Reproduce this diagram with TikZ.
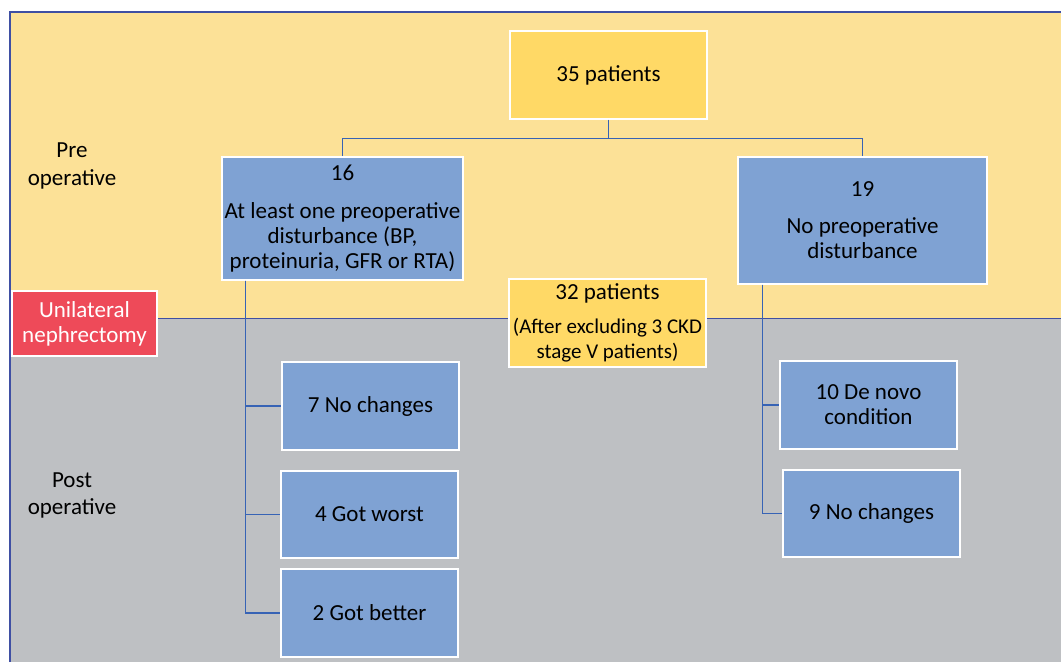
\documentclass[tikz,border=0pt]{standalone}
\usepackage{fontspec}
\setmainfont{Carlito}
\usetikzlibrary{calc}
\definecolor{bgyellow}{HTML}{FCE197}
\definecolor{bggray}{HTML}{BEC0C3}
\definecolor{boxblue}{HTML}{7FA2D3}
\definecolor{boxyellow}{HTML}{FFD966}
\definecolor{boxred}{HTML}{EE4A59}
\definecolor{linkblue}{HTML}{3763B5}
\definecolor{frameblue}{HTML}{3F4FA3}
\begin{document}
\begin{tikzpicture}[x=1pt,y=-1pt,
  font=\fontsize{23}{25}\selectfont,
  bx/.style={draw=white,line width=1.2pt,inner sep=0pt,align=center,text=black},
  bluebox/.style={bx,fill=boxblue},
  yellowbox/.style={bx,fill=boxyellow},
  link/.style={draw=linkblue,line width=1.2pt},
  lbl/.style={align=center,inner sep=0pt}]
\useasboundingbox (0,0) rectangle (1061,662);
\fill[bgyellow] (10,12) rectangle (1061,318);
\fill[bggray] (10,318) rectangle (1061,662);
\draw[frameblue,line width=1.2pt] (10,662) -- (10,12) -- (1061,12);
\draw[frameblue,line width=1pt] (10,318) -- (1061,318);

\node[lbl] (pre) at (72,166) {Pre\\[3pt]operative};
\node[lbl] (post) at (72,495) {Post\\[2pt]operative};

\node[yellowbox,minimum width=197,minimum height=88] (n35) at (608.5,75) {35 patients};
\node[bluebox,minimum width=241,minimum height=123] (n16) at (342.5,218.5) {16\\[13pt]At least one preoperative\\disturbance (BP,\\proteinuria, GFR or RTA)};
\node[bluebox,minimum width=249,minimum height=127] (n19) at (862.5,220.5) {19\\[12pt]No preoperative\\disturbance};
\node[yellowbox,minimum width=197,minimum height=88] (n32) at (607.5,323) {32 patients\\[9pt]{\fontsize{21}{23}\selectfont(After excluding 3 CKD}\\{\fontsize{21}{23}\selectfont stage V patients)}};
\node[bx,fill=boxred,text=white,minimum width=145,minimum height=65] (un) at (84.5,323.5) {Unilateral\\nephrectomy};

\node[bluebox,minimum width=177,minimum height=88] (n7) at (370.5,406) {7 No changes};
\node[bluebox,minimum width=177,minimum height=87] (n4) at (369.5,514.5) {4 Got worst};
\node[bluebox,minimum width=177,minimum height=88] (n2) at (369.5,613) {2 Got better};
\node[bluebox,minimum width=177,minimum height=88] (n10) at (868.5,405) {10 De novo\\condition};
\node[bluebox,minimum width=177,minimum height=87] (n9) at (871.5,513.5) {9 No changes};

\coordinate (j) at ($(n35.south)+(0,19)$);
\draw[link] (n35.south) -- (j);
\draw[link] (j) -| (n16.north);
\draw[link] (j) -| (n19.north);

\coordinate (lt) at ($(n16.south west)+(24,0)$);
\draw[link] (lt) |- (n7.west);
\draw[link] (lt) |- (n4.west);
\draw[link] (lt) |- (n2.west);

\coordinate (rt) at ($(n19.south west)+(25,0)$);
\draw[link] (rt) |- (n10.west);
\draw[link] (rt) |- (n9.west);
\end{tikzpicture}
\end{document}
